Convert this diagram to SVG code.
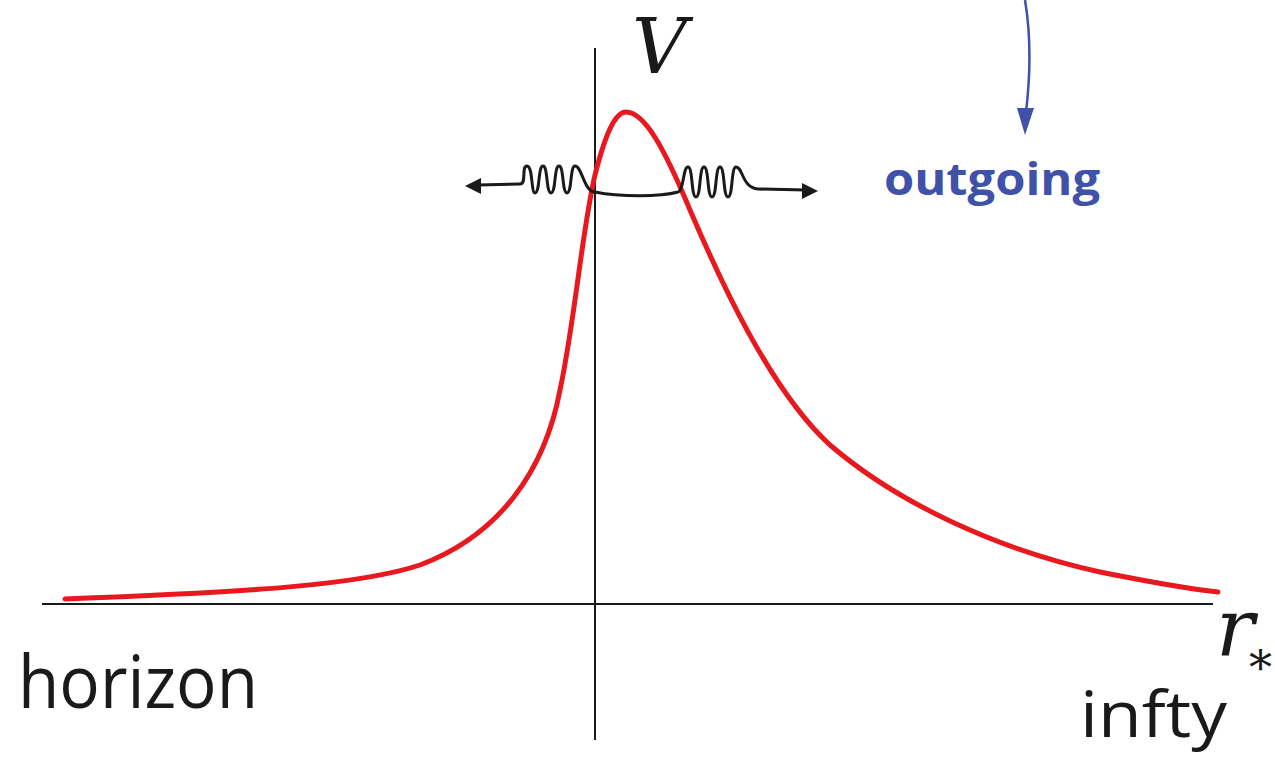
<svg xmlns="http://www.w3.org/2000/svg" width="1275" height="758" viewBox="0 0 1275 758">
<defs>
<style>
.axis{stroke:#1a1a1a;stroke-width:2;fill:none}
.wave{stroke:#1a1a1a;stroke-width:3;fill:none}
.curve{stroke:#e8191e;stroke-width:5;fill:none;stroke-linecap:round}
.lbl{font-family:"Open Sans","Liberation Sans",sans-serif;fill:#1a1a1a}
.math{font-family:"DejaVu Serif","Liberation Serif",serif;font-style:italic;fill:#1a1a1a}
</style>
</defs>
<g id="axes">
<line class="axis" x1="42" y1="604" x2="1213" y2="604"/>
<line class="axis" x1="595" y1="48" x2="595" y2="740"/>
</g>
<g id="potential">
<path class="curve" d="M65,599 C250,592 360,585 420,565 C500,535 545,470 560,390 C575,320 582,230 595,175 C605,135 615,112 626,112 C645,112 665,150 690,210 C720,280 770,390 830,445 C900,505 1000,550 1100,572 C1150,582 1190,589 1218,592"/>
</g>
<g id="connectors">
<path class="wave" d="M478,185 L520,184 C527,184 521,166 527,166 C533,166 531,193 535,193 C540,193 538,166 543,166 C548,166 546,193 551,193 C556,193 554,166 559,166 C564,166 562,193 567,193 C572,193 570,166 575,166 C582,166 584,192 595,192 C620,197 660,197 678,192 C684,190 683,167 688,167 C693,167 691,197 696,197 C701,197 699,167 704,167 C709,167 707,197 712,197 C717,197 715,167 720,167 C725,167 723,197 728,197 C733,197 731,167 736,167 C743,167 742,188 758,189 L806,190"/>
<path d="M465,186 L481,178 L481,194 z" fill="#1a1a1a"/>
<path d="M818,191 L802,183 L802,199 z" fill="#1a1a1a"/>
<path d="M1025,0 C1030,30 1031,70 1026,112" stroke="#3f51a8" stroke-width="2.5" fill="none"/>
<path d="M1025,135 L1017,108 L1034,108 z" fill="#3f51a8"/>
</g>
<g id="labels">
<text class="math" x="632" y="73" font-size="76">V</text>
<text class="math" x="1216" y="656" font-size="80">r</text>
<text x="1249" y="684" font-size="46" font-family="DejaVu Serif,serif" fill="#1a1a1a">*</text>
<text class="lbl" x="18" y="708" font-size="74" textLength="240" lengthAdjust="spacingAndGlyphs">horizon</text>
<text class="lbl" x="1080" y="737" font-size="64" textLength="147" lengthAdjust="spacingAndGlyphs">infty</text>
<text x="884" y="195" font-family="'Open Sans','Liberation Sans',sans-serif" font-weight="bold" font-size="44" fill="#3f51a8" textLength="216" lengthAdjust="spacingAndGlyphs">outgoing</text>
</g>
</svg>
